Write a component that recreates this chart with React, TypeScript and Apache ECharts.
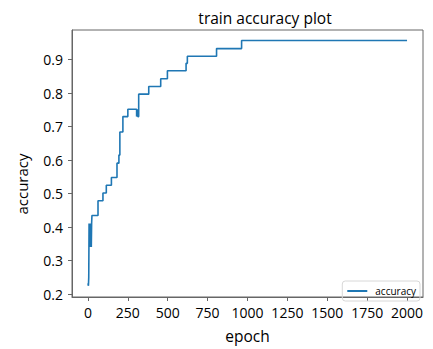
import React, { useEffect, useRef } from "react";
import * as echarts from "echarts";

const epochs = [0, 3, 5, 7, 9, 11, 13, 15, 17, 19, 21, 23, 25, 63, 94, 115, 147, 182, 194, 200, 219, 250, 305, 309, 313, 318, 381, 456, 498, 615, 623, 806, 963, 2000];
const accuracy = [0.232, 0.225, 0.25, 0.411, 0.341, 0.411, 0.341, 0.411, 0.341, 0.411, 0.341, 0.411, 0.435, 0.479, 0.502, 0.525, 0.548, 0.591, 0.615, 0.684, 0.730, 0.752, 0.730, 0.752, 0.730, 0.797, 0.820, 0.843, 0.867, 0.889, 0.910, 0.933, 0.957, 0.957];
const xTicks = [0, 250, 500, 750, 1000, 1250, 1500, 1750, 2000];
const yTicks = [0.2, 0.3, 0.4, 0.5, 0.6, 0.7, 0.8, 0.9];

const FONT = "Open Sans";

export default function App() {
  const ref = useRef<HTMLDivElement>(null);
  useEffect(() => {
    const chart = echarts.init(ref.current!, null, { renderer: "svg" });
    const data = epochs.map((e, i) => [e, accuracy[i]]);
    chart.setOption({
      animation: false,
      backgroundColor: "#ffffff",
      title: {
        text: "train accuracy plot",
        left: 260,
        top: 5,
        textAlign: "center",
        textStyle: { fontFamily: FONT, fontSize: 15.5, fontWeight: "normal", color: "#000" },
      },
      grid: {
        left: 72,
        top: 30,
        width: 351,
        height: 275,
        show: true,
        borderColor: "#666",
        borderWidth: 1,
        backgroundColor: "transparent",
      },
      legend: {
        right: 13,
        bottom: 48,
        itemWidth: 20,
        itemHeight: 2,
        padding: [5, 4, 5, 5],
        borderColor: "#d8d8d8",
        borderWidth: 1,
        borderRadius: 3,
        icon: "rect",
        textStyle: { fontFamily: FONT, fontSize: 10, color: "#000", padding: [0, 0, 0, 3] },
        data: ["accuracy"],
      },
      xAxis: {
        type: "value",
        min: -100,
        max: 2100,
        name: "epoch",
        nameLocation: "middle",
        nameGap: 31,
        nameTextStyle: { fontFamily: FONT, fontSize: 15.5, color: "#000" },
        splitLine: { show: false },
        axisLine: { show: true, onZero: false, lineStyle: { color: "#666" } },
        axisTick: { show: true, inside: false, length: 4, lineStyle: { color: "#666" }, customValues: xTicks },
        axisLabel: { fontFamily: FONT, fontSize: 14, color: "#000", margin: 8, customValues: xTicks, formatter: (v: number) => String(v) },
      },
      yAxis: {
        type: "value",
        min: 0.1915,
        max: 0.9885,
        splitLine: { show: false },
        axisLine: { show: true, onZero: false, lineStyle: { color: "#666" } },
        axisTick: { show: true, inside: false, length: 4, lineStyle: { color: "#666" }, customValues: yTicks },
        axisLabel: { fontFamily: FONT, fontSize: 14, color: "#000", margin: 9, customValues: yTicks, formatter: (v: number) => v.toFixed(1) },
      },
      graphic: [
        {
          type: "text",
          x: 22,
          y: 184,
          rotation: Math.PI / 2,
          style: {
            text: "accuracy",
            fontFamily: FONT,
            fontSize: 15,
            fill: "#000",
            align: "center",
            verticalAlign: "middle",
          },
        },
      ],
      series: [
        {
          name: "accuracy",
          type: "line",
          step: "end",
          data,
          showSymbol: false,
          symbol: "none",
          lineStyle: { color: "#1f77b4", width: 1.6 },
          itemStyle: { color: "#1f77b4" },
        },
      ],
    });
    return () => chart.dispose();
  }, []);
  return <div ref={ref} style={{ position: "absolute", left: 0, top: 0, width: 433, height: 349 }} />;
}
